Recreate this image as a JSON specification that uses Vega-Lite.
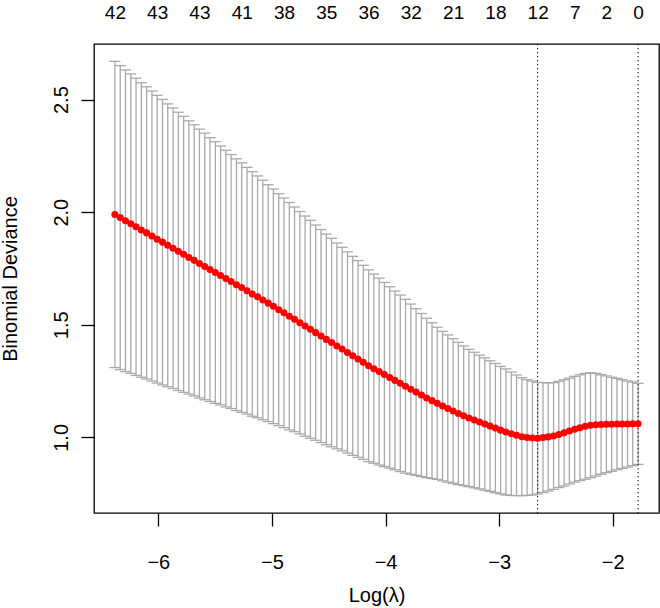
{
  "$schema": "https://vega.github.io/schema/vega-lite/v6.json",
  "width": 565,
  "height": 469,
  "autosize": {"type": "none"},
  "padding": {"left": 94, "top": 44, "right": 1, "bottom": 95},
  "background": "#ffffff",
  "config": {
    "view": {"stroke": "#000000", "strokeWidth": 1.3},
    "font": "Liberation Sans",
    "axis": {
      "grid": false, "domain": false, "tickColor": "#000000", "tickWidth": 1.3, "tickSize": 13,
      "labelFont": "Liberation Sans", "labelFontSize": 20, "labelColor": "#000000",
      "titleFont": "Liberation Sans", "titleFontSize": 20, "titleFontWeight": "normal", "titleColor": "#000000",
      "labelOverlap": false, "labelFlush": false
    }
  },
  "datasets": {
    "cv": [
      {"x": -1.777, "cvm": 1.060, "lo": 0.880, "hi": 1.240},
      {"x": -1.824, "cvm": 1.060, "lo": 0.874, "hi": 1.246},
      {"x": -1.870, "cvm": 1.059, "lo": 0.868, "hi": 1.250},
      {"x": -1.917, "cvm": 1.059, "lo": 0.862, "hi": 1.256},
      {"x": -1.963, "cvm": 1.059, "lo": 0.856, "hi": 1.262},
      {"x": -2.010, "cvm": 1.058, "lo": 0.849, "hi": 1.267},
      {"x": -2.056, "cvm": 1.058, "lo": 0.843, "hi": 1.273},
      {"x": -2.103, "cvm": 1.057, "lo": 0.836, "hi": 1.278},
      {"x": -2.149, "cvm": 1.056, "lo": 0.828, "hi": 1.284},
      {"x": -2.196, "cvm": 1.054, "lo": 0.821, "hi": 1.287},
      {"x": -2.242, "cvm": 1.049, "lo": 0.814, "hi": 1.284},
      {"x": -2.289, "cvm": 1.043, "lo": 0.808, "hi": 1.278},
      {"x": -2.335, "cvm": 1.036, "lo": 0.801, "hi": 1.271},
      {"x": -2.382, "cvm": 1.028, "lo": 0.793, "hi": 1.263},
      {"x": -2.428, "cvm": 1.020, "lo": 0.784, "hi": 1.256},
      {"x": -2.475, "cvm": 1.013, "lo": 0.777, "hi": 1.249},
      {"x": -2.521, "cvm": 1.006, "lo": 0.769, "hi": 1.243},
      {"x": -2.568, "cvm": 1.002, "lo": 0.762, "hi": 1.242},
      {"x": -2.614, "cvm": 0.999, "lo": 0.755, "hi": 1.243},
      {"x": -2.661, "cvm": 0.996, "lo": 0.748, "hi": 1.244},
      {"x": -2.707, "cvm": 0.997, "lo": 0.744, "hi": 1.250},
      {"x": -2.754, "cvm": 0.999, "lo": 0.742, "hi": 1.256},
      {"x": -2.800, "cvm": 1.003, "lo": 0.741, "hi": 1.265},
      {"x": -2.847, "cvm": 1.009, "lo": 0.741, "hi": 1.277},
      {"x": -2.893, "cvm": 1.016, "lo": 0.742, "hi": 1.290},
      {"x": -2.940, "cvm": 1.024, "lo": 0.744, "hi": 1.304},
      {"x": -2.987, "cvm": 1.032, "lo": 0.749, "hi": 1.315},
      {"x": -3.033, "cvm": 1.041, "lo": 0.754, "hi": 1.328},
      {"x": -3.080, "cvm": 1.050, "lo": 0.760, "hi": 1.340},
      {"x": -3.126, "cvm": 1.059, "lo": 0.765, "hi": 1.353},
      {"x": -3.173, "cvm": 1.068, "lo": 0.771, "hi": 1.365},
      {"x": -3.219, "cvm": 1.077, "lo": 0.776, "hi": 1.378},
      {"x": -3.266, "cvm": 1.086, "lo": 0.781, "hi": 1.391},
      {"x": -3.312, "cvm": 1.096, "lo": 0.786, "hi": 1.406},
      {"x": -3.359, "cvm": 1.106, "lo": 0.790, "hi": 1.422},
      {"x": -3.405, "cvm": 1.117, "lo": 0.796, "hi": 1.438},
      {"x": -3.452, "cvm": 1.128, "lo": 0.801, "hi": 1.455},
      {"x": -3.498, "cvm": 1.139, "lo": 0.807, "hi": 1.471},
      {"x": -3.545, "cvm": 1.151, "lo": 0.813, "hi": 1.489},
      {"x": -3.591, "cvm": 1.163, "lo": 0.817, "hi": 1.509},
      {"x": -3.638, "cvm": 1.175, "lo": 0.821, "hi": 1.529},
      {"x": -3.684, "cvm": 1.188, "lo": 0.826, "hi": 1.550},
      {"x": -3.731, "cvm": 1.201, "lo": 0.831, "hi": 1.571},
      {"x": -3.777, "cvm": 1.214, "lo": 0.836, "hi": 1.592},
      {"x": -3.824, "cvm": 1.227, "lo": 0.841, "hi": 1.613},
      {"x": -3.870, "cvm": 1.240, "lo": 0.848, "hi": 1.632},
      {"x": -3.917, "cvm": 1.253, "lo": 0.856, "hi": 1.650},
      {"x": -3.963, "cvm": 1.266, "lo": 0.863, "hi": 1.669},
      {"x": -4.010, "cvm": 1.279, "lo": 0.870, "hi": 1.688},
      {"x": -4.056, "cvm": 1.292, "lo": 0.877, "hi": 1.707},
      {"x": -4.103, "cvm": 1.305, "lo": 0.885, "hi": 1.725},
      {"x": -4.149, "cvm": 1.318, "lo": 0.892, "hi": 1.744},
      {"x": -4.196, "cvm": 1.333, "lo": 0.902, "hi": 1.764},
      {"x": -4.242, "cvm": 1.348, "lo": 0.911, "hi": 1.785},
      {"x": -4.289, "cvm": 1.362, "lo": 0.920, "hi": 1.804},
      {"x": -4.335, "cvm": 1.377, "lo": 0.930, "hi": 1.824},
      {"x": -4.382, "cvm": 1.392, "lo": 0.940, "hi": 1.844},
      {"x": -4.428, "cvm": 1.406, "lo": 0.949, "hi": 1.863},
      {"x": -4.475, "cvm": 1.421, "lo": 0.958, "hi": 1.884},
      {"x": -4.521, "cvm": 1.435, "lo": 0.967, "hi": 1.903},
      {"x": -4.568, "cvm": 1.450, "lo": 0.977, "hi": 1.923},
      {"x": -4.615, "cvm": 1.465, "lo": 0.987, "hi": 1.943},
      {"x": -4.661, "cvm": 1.480, "lo": 0.996, "hi": 1.964},
      {"x": -4.708, "cvm": 1.494, "lo": 1.005, "hi": 1.983},
      {"x": -4.754, "cvm": 1.509, "lo": 1.015, "hi": 2.003},
      {"x": -4.801, "cvm": 1.524, "lo": 1.025, "hi": 2.023},
      {"x": -4.847, "cvm": 1.538, "lo": 1.033, "hi": 2.043},
      {"x": -4.894, "cvm": 1.553, "lo": 1.043, "hi": 2.063},
      {"x": -4.940, "cvm": 1.567, "lo": 1.052, "hi": 2.082},
      {"x": -4.987, "cvm": 1.582, "lo": 1.061, "hi": 2.103},
      {"x": -5.033, "cvm": 1.596, "lo": 1.070, "hi": 2.122},
      {"x": -5.080, "cvm": 1.610, "lo": 1.078, "hi": 2.142},
      {"x": -5.126, "cvm": 1.624, "lo": 1.087, "hi": 2.161},
      {"x": -5.173, "cvm": 1.637, "lo": 1.094, "hi": 2.180},
      {"x": -5.219, "cvm": 1.651, "lo": 1.103, "hi": 2.199},
      {"x": -5.266, "cvm": 1.665, "lo": 1.111, "hi": 2.219},
      {"x": -5.312, "cvm": 1.678, "lo": 1.119, "hi": 2.237},
      {"x": -5.359, "cvm": 1.692, "lo": 1.128, "hi": 2.256},
      {"x": -5.405, "cvm": 1.705, "lo": 1.135, "hi": 2.275},
      {"x": -5.452, "cvm": 1.719, "lo": 1.144, "hi": 2.294},
      {"x": -5.498, "cvm": 1.732, "lo": 1.151, "hi": 2.313},
      {"x": -5.545, "cvm": 1.745, "lo": 1.159, "hi": 2.331},
      {"x": -5.591, "cvm": 1.759, "lo": 1.167, "hi": 2.351},
      {"x": -5.638, "cvm": 1.772, "lo": 1.175, "hi": 2.369},
      {"x": -5.684, "cvm": 1.786, "lo": 1.184, "hi": 2.388},
      {"x": -5.731, "cvm": 1.799, "lo": 1.192, "hi": 2.406},
      {"x": -5.777, "cvm": 1.813, "lo": 1.200, "hi": 2.426},
      {"x": -5.824, "cvm": 1.826, "lo": 1.208, "hi": 2.444},
      {"x": -5.870, "cvm": 1.840, "lo": 1.217, "hi": 2.463},
      {"x": -5.917, "cvm": 1.853, "lo": 1.225, "hi": 2.481},
      {"x": -5.963, "cvm": 1.867, "lo": 1.233, "hi": 2.501},
      {"x": -6.010, "cvm": 1.880, "lo": 1.241, "hi": 2.519},
      {"x": -6.056, "cvm": 1.894, "lo": 1.250, "hi": 2.538},
      {"x": -6.103, "cvm": 1.908, "lo": 1.259, "hi": 2.557},
      {"x": -6.149, "cvm": 1.921, "lo": 1.267, "hi": 2.575},
      {"x": -6.196, "cvm": 1.935, "lo": 1.275, "hi": 2.595},
      {"x": -6.242, "cvm": 1.949, "lo": 1.284, "hi": 2.614},
      {"x": -6.289, "cvm": 1.962, "lo": 1.292, "hi": 2.632},
      {"x": -6.335, "cvm": 1.976, "lo": 1.301, "hi": 2.651},
      {"x": -6.382, "cvm": 1.990, "lo": 1.310, "hi": 2.670}
    ],
    "vlines": [{"x": -2.661}, {"x": -1.777}]
  },
  "layer": [
    {
      "data": {"name": "cv"},
      "mark": {"type": "rule", "color": "#A9A9A9", "strokeWidth": 1.3},
      "encoding": {
        "x": {"field": "x", "type": "quantitative",
          "scale": {"domain": [-6.566, -1.593], "nice": false, "zero": false},
          "axis": {"orient": "bottom", "values": [-6, -5, -4, -3, -2], "title": "Log(λ)",
            "labelPadding": 42, "labelBaseline": "alphabetic",
            "titleX": 282.5, "titleY": 88, "titleBaseline": "alphabetic", "titleAlign": "center"}},
        "y": {"field": "lo", "type": "quantitative",
          "scale": {"domain": [0.664, 2.747], "nice": false, "zero": false},
          "axis": {"values": [1, 1.5, 2, 2.5], "format": ".1f", "labelAngle": -90, "labelAlign": "center",
            "labelBaseline": "alphabetic", "labelPadding": 14, "title": "Binomial Deviance",
            "titleX": -78, "titleY": 234.5, "titleAngle": -90, "titleBaseline": "alphabetic", "titleAlign": "center"}},
        "y2": {"field": "hi"}
      }
    },
    {
      "data": {"name": "cv"},
      "mark": {"type": "tick", "orient": "horizontal", "size": 11, "thickness": 1.3, "color": "#A9A9A9", "opacity": 1},
      "encoding": {
        "x": {"field": "x", "type": "quantitative", "scale": {"domain": [-6.566, -1.593], "nice": false, "zero": false}, "axis": null},
        "y": {"field": "hi", "type": "quantitative", "scale": {"domain": [0.664, 2.747], "nice": false, "zero": false}, "title": "Binomial Deviance"}
      }
    },
    {
      "data": {"name": "cv"},
      "mark": {"type": "tick", "orient": "horizontal", "size": 11, "thickness": 1.3, "color": "#A9A9A9", "opacity": 1},
      "encoding": {
        "x": {"field": "x", "type": "quantitative", "scale": {"domain": [-6.566, -1.593], "nice": false, "zero": false}, "axis": null},
        "y": {"field": "lo", "type": "quantitative", "scale": {"domain": [0.664, 2.747], "nice": false, "zero": false}, "title": "Binomial Deviance"}
      }
    },
    {
      "data": {"name": "vlines"},
      "mark": {"type": "rule", "color": "#000000", "strokeWidth": 1, "strokeDash": [1.3, 2.7]},
      "encoding": {
        "x": {"field": "x", "type": "quantitative", "scale": {"domain": [-6.566, -1.593], "nice": false, "zero": false}, "axis": null}
      }
    },
    {
      "data": {"name": "cv"},
      "mark": {"type": "circle", "color": "#FF0000", "size": 50, "opacity": 1},
      "encoding": {
        "x": {"field": "x", "type": "quantitative",
          "scale": {"domain": [-6.566, -1.593], "nice": false, "zero": false},
          "axis": {"orient": "top", "title": null, "ticks": false, "tickSize": 0, "labelPadding": 26, "labelBaseline": "alphabetic", "labelFontSize": 19,
            "values": [-6.382, -6.01, -5.638, -5.266, -4.894, -4.521, -4.149, -3.777, -3.405, -3.033, -2.661, -2.335, -2.056, -1.777],
            "labelExpr": "['42','43','43','41','38','35','36','32','21','18','12','7','2','0'][indexof([-6.382, -6.01, -5.638, -5.266, -4.894, -4.521, -4.149, -3.777, -3.405, -3.033, -2.661, -2.335, -2.056, -1.777], datum.value)]"}},
        "y": {"field": "cvm", "type": "quantitative", "scale": {"domain": [0.664, 2.747], "nice": false, "zero": false}, "title": "Binomial Deviance"}
      }
    }
  ],
  "resolve": {"axis": {"x": "independent"}}
}
